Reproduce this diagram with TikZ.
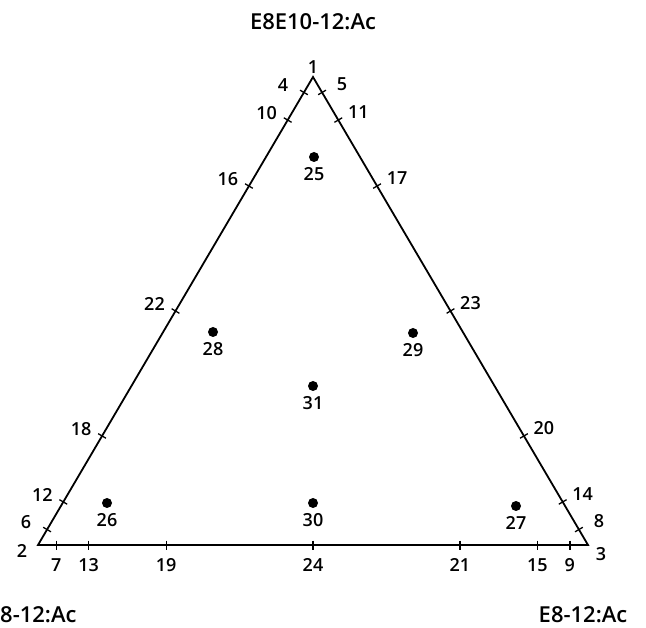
\documentclass[tikz,border=0pt]{standalone}
\usepackage{fontspec}
\setmainfont{Open Sans}[BoldFont={Open Sans Semibold}]
\usetikzlibrary{calc,positioning}

\begin{document}
\begin{tikzpicture}[
  x=1pt, y=-1pt,
  side/.style={line width=1.8pt, line join=miter},
  tick/.style={line width=1.3pt},
  num/.style={font=\fontsize{18}{20}\selectfont\bfseries, inner sep=0pt},
  ttl/.style={font=\fontsize{22}{24}\selectfont\bfseries, inner sep=0pt},
  dot/.style={circle, fill=black, inner sep=0pt, minimum size=10pt}
]
\useasboundingbox (0,0) rectangle (646,628);
% corners of the mixture triangle
\coordinate (v1) at (313,77);
\coordinate (v2) at (38,545);
\coordinate (v3) at (588,545);
\draw[side] (v1) -- (v2) -- (v3) -- cycle;
\node[num] (n1) at (313,67) {1};
\node[num] (n2) at (22,551) {2};
\node[num] (n3) at (601,554) {3};
% blends on the edges
\foreach \t/\a/\b/\c in {0.033/4/5/7, 0.092/10/11/13, 0.233/16/17/19, 0.5/22/23/24,
                         0.767/18/20/21, 0.908/12/14/15, 0.967/6/8/9}{
  \coordinate (pl) at ($(v1)!\t!(v2)$);
  \coordinate (pr) at ($(v1)!\t!(v3)$);
  \coordinate (pb) at ($(v2)!\t!(v3)$);
  \draw[tick] ($(pl)!4.5pt!90:(v2)$) -- ($(pl)!4.5pt!-90:(v2)$);
  \draw[tick] ($(pr)!4.5pt!90:(v3)$) -- ($(pr)!4.5pt!-90:(v3)$);
  \draw[tick] ($(pb)!4.5pt!90:(v3)$) -- ($(pb)!4.5pt!-90:(v3)$);
  \node[num] (n\a) at ($(pl)+(-21,-7)$) {\a};
  \node[num] (n\b) at ($(pr)+(20,-8)$) {\b};
  \node[num] (n\c) at ($(pb)+(0,20)$) {\c};
}
% blends inside
\foreach \n/\x/\y in {25/314/157, 28/213/332, 29/413/333, 31/313/386,
                      26/107/503, 30/313/503, 27/516/506}{
  \node[dot] (d\n) at (\x,\y) {};
  \node[num, below=5pt of d\n] (n\n) {\n};
}
\node[ttl] (top) at (313,22) {E8E10-12:Ac};
\node[ttl, anchor=west] (left) at (0,615) {8-12:Ac};
\node[ttl] (right) at (583,615) {E8-12:Ac};
\end{tikzpicture}
\end{document}
